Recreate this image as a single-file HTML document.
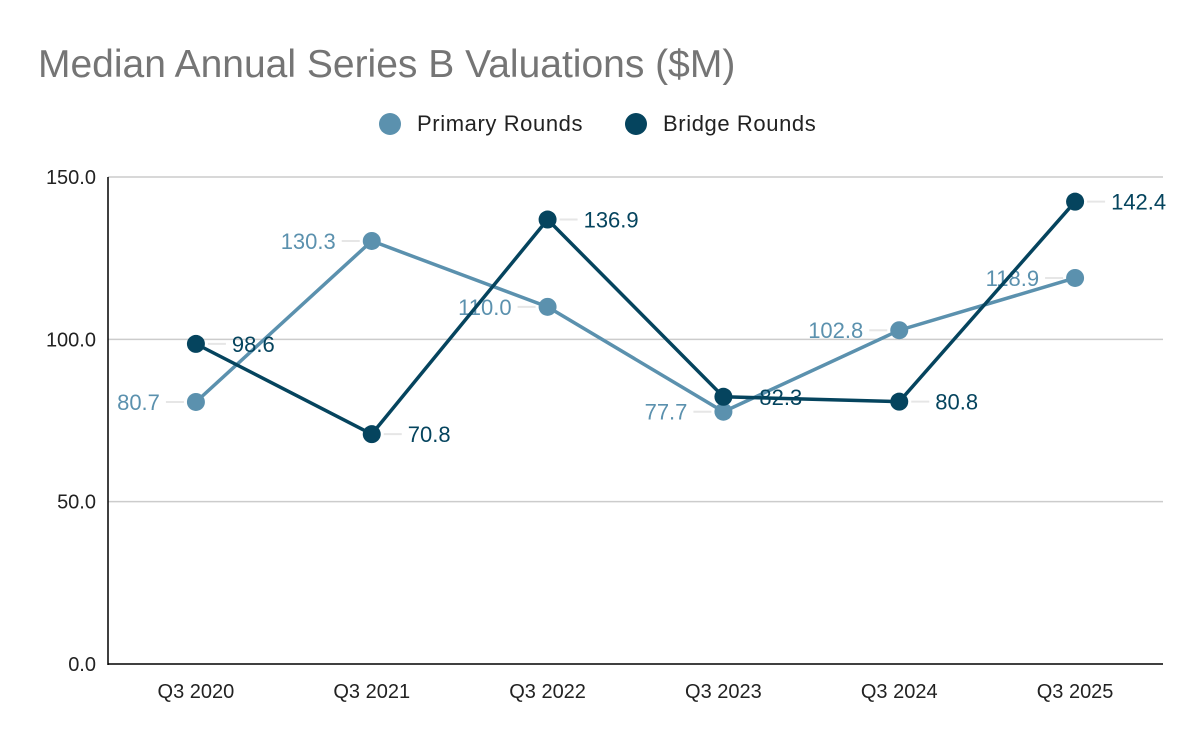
<!DOCTYPE html>
<html><head><meta charset="utf-8"><style>
body{margin:0;background:#fff;}
svg{display:block;font-family:"Liberation Sans",Arial,sans-serif;}
</style></head><body>
<svg id="chart" width="1200" height="742">
<text x="38" y="77" font-size="39" fill="#757575">Median Annual Series B Valuations ($M)</text>
<g>
<circle cx="390" cy="124" r="11" fill="#5b91ae"/>
<text x="417" y="131" font-size="22" letter-spacing="0.6" fill="#222">Primary Rounds</text>
<circle cx="636" cy="124" r="11" fill="#05445e"/>
<text x="663" y="131" font-size="22" letter-spacing="0.6" fill="#222">Bridge Rounds</text>
</g>
<g id="grid"></g><g id="series"></g>
</svg>
<script>
const categories=["Q3 2020","Q3 2021","Q3 2022","Q3 2023","Q3 2024","Q3 2025"];
const primaryValues=[80.7,130.3,110.0,77.7,102.8,118.9];
const bridgeValues=[98.6,70.8,136.9,82.3,80.8,142.4];
const yTicks=[0,50,100,150];
const NS="http://www.w3.org/2000/svg";
const L=108,R=1163,T=177,B=664,yMax=150;
const xs=i=>L+(R-L)/categories.length*(i+0.5);
const ys=v=>B-(B-T)*v/yMax;
function mk(tag,attrs,parent){const e=document.createElementNS(NS,tag);for(const k in attrs)e.setAttribute(k,attrs[k]);parent.appendChild(e);return e;}
const grid=document.getElementById('grid'),ser=document.getElementById('series');
yTicks.forEach(t=>{
 if(t>0){const g=mk('line',{x1:L,x2:R,y1:ys(t),y2:ys(t),stroke:'#cccccc','stroke-width':1.5},grid);
 
 }
 const tx=mk('text',{x:96,y:ys(t)+7,'font-size':20,'text-anchor':'end',fill:'#222'},grid);tx.textContent=t.toFixed(1);
 
 
});
const ax=mk('line',{x1:L,x2:L,y1:T,y2:B+1,stroke:'#000','stroke-width':1.5},grid);


const bx=mk('line',{x1:L,x2:R,y1:B,y2:B,stroke:'#000','stroke-width':1.5},grid);


categories.forEach((c,i)=>{const t=mk('text',{x:xs(i),y:698,'font-size':20,'text-anchor':'middle',fill:'#222'},grid);t.textContent=c;
 
 });
function draw(vals,color,name,side){
 const g=mk('g',{},ser);
 
 
 vals.forEach((v,i)=>{const x=xs(i),y=ys(v);
  const ln=mk('line',{x1:x+side*12,x2:x+side*30,y1:y,y2:y,stroke:'#e6e6e6','stroke-width':2},g);
  
  
  const t=mk('text',{x:x+side*36,y:y+8,'font-size':22,'text-anchor':side>0?'start':'end',fill:color},g);t.textContent=v.toFixed(1);
  
  });
 const p=mk('polyline',{points:vals.map((v,i)=>xs(i)+','+ys(v)).join(' '),fill:'none',stroke:color,'stroke-width':3.5},g);
 
 
 vals.forEach((v,i)=>{const c=mk('circle',{cx:xs(i),cy:ys(v),r:9,fill:color},g);
  
  });
}
draw(primaryValues,'#5b91ae','primary',-1);
draw(bridgeValues,'#05445e','bridge',1);
</script>
</body></html>
